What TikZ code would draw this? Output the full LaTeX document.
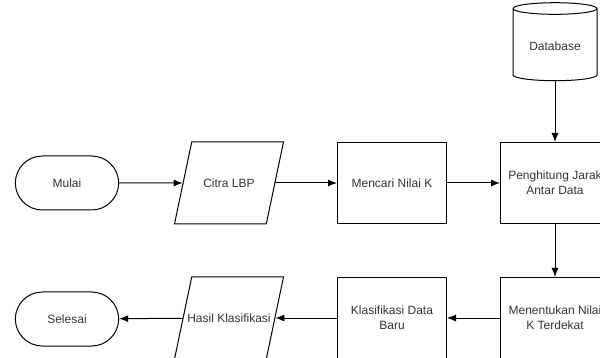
\documentclass[tikz,border=0pt]{standalone}
\usepackage{fontspec}
\setmainfont{Liberation Sans}
\usetikzlibrary{shapes.geometric,shapes.misc,arrows.meta}
\begin{document}
\begin{tikzpicture}[x=1pt,y=-1pt,line width=1pt,font=\fontsize{12}{15}\selectfont]
	\tikzset{>={Latex[length=9pt,width=7pt]}}
	\tikzset{
	  proses/.style={draw,rectangle,minimum width=109pt,minimum height=81pt,align=center,text=black!80},
	  terminal/.style={draw,rounded rectangle,minimum width=110pt,minimum height=54pt,text=black!80},
	  io/.style={draw,trapezium,trapezium left angle=77,trapezium right angle=103,trapezium stretches=true,minimum width=109pt,minimum height=82pt,label={[text=black!80]center:#1}},
	  db/.style={draw,cylinder,shape border rotate=90,aspect=0.2,minimum width=84pt,minimum height=78pt,text=black!80}
	}
  \useasboundingbox (0,0) rectangle (600,358);
  \clip (0,0) rectangle (600,358);

  \node[terminal] (mulai) at (67,183) {Mulai};
  \node[io={Citra LBP}] (citra) at (229,183) {};
  \node[proses] (mencari) at (392,183) {Mencari Nilai K};
  \node[proses] (jarak) at (555,183) {Penghitung Jarak\\Antar Data};
  \node[db] (database) at (555,46) {Database};

  \node[proses] (terdekat) at (555,318) {Menentukan Nilai\\K Terdekat};
  \node[proses] (klasifikasi) at (392,318) {Klasifikasi Data\\Baru};
  \node[io={Hasil Klasifikasi}] (hasil) at (229,318) {};
  \node[terminal] (selesai) at (67,319) {Selesai};

  \draw[->] (mulai) -- (citra);
  \draw[->] (citra) -- (mencari);
  \draw[->] (mencari) -- (jarak);
  \draw[->] (database) -- (jarak);
  \draw[->] (jarak) -- (terdekat);
  \draw[->] (terdekat) -- (klasifikasi);
  \draw[->] (klasifikasi) -- (hasil);
  \draw[->] (hasil) -- (selesai);

\end{tikzpicture}
\end{document}
